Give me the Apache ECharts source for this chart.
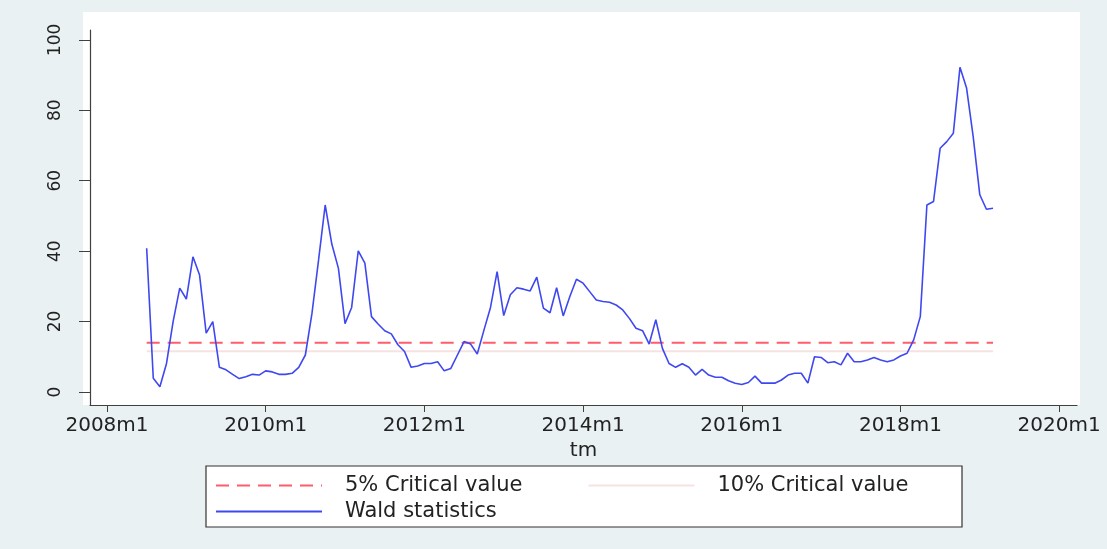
<!DOCTYPE html>
<html>
<head>
<meta charset="utf-8">
<script src="https://cdn.jsdelivr.net/npm/echarts@6/dist/echarts.min.js"></script>
<style>
  html, body { margin: 0; padding: 0; background: #e9f1f2; }
  #chart { width: 1107px; height: 549px; }
</style>
</head>
<body>
<div id="chart"></div>
<script>
// ---- data ----
const firstPeriod = '2008m7';            // first monthly observation
const waldStats = [
  40.8, 3.9, 1.5, 8.1, 20.0, 29.5,                                  // 2008m7-2008m12
  26.4, 38.4, 33.2, 16.7, 20.0, 7.0, 6.3, 5.0, 3.8, 4.3, 5.0, 4.8,   // 2009
  6.0, 5.7, 5.0, 5.0, 5.3, 7.0, 10.5, 22.3, 37.5, 53.1, 42.0, 35.1,  // 2010
  19.4, 24.0, 40.1, 36.6, 21.4, 19.3, 17.4, 16.5, 13.4, 11.5, 7.0, 7.4, // 2011
  8.1, 8.1, 8.6, 6.0, 6.7, 10.5, 14.3, 13.6, 10.8, 17.5, 24.0, 34.2, // 2012
  21.7, 27.6, 29.6, 29.2, 28.7, 32.6, 23.8, 22.5, 29.6, 21.6, 27.1, 32.0, // 2013
  30.9, 28.5, 26.1, 25.7, 25.5, 24.7, 23.3, 20.9, 18.1, 17.4, 13.6, 20.5, // 2014
  12.4, 8.1, 7.0, 8.0, 7.0, 4.8, 6.4, 4.8, 4.2, 4.2, 3.2, 2.5,       // 2015
  2.1, 2.7, 4.5, 2.5, 2.5, 2.5, 3.4, 4.8, 5.3, 5.3, 2.5, 10.0,       // 2016
  9.8, 8.3, 8.6, 7.7, 11.0, 8.6, 8.6, 9.1, 9.8, 9.1, 8.6, 9.1,       // 2017
  10.2, 11.0, 14.8, 21.4, 53.1, 54.1, 69.2, 71.1, 73.5, 92.2, 86.3, 72.5, // 2018
  56.0, 51.9, 52.2                                                   // 2019m1-2019m3
];
const criticalValue5 = 14.0;
const criticalValue10 = 11.6;
const xTickLabels = ['2008m1', '2010m1', '2012m1', '2014m1', '2016m1', '2018m1', '2020m1'];
const yTickValues = [0, 20, 40, 60, 80, 100];
const seriesNames = ['5% Critical value', '10% Critical value', 'Wald statistics'];

// ---- helpers ----
const baseYear = 2008;
function periodIndex(p) {            // months since 2008m1
  const [y, m] = p.split('m').map(Number);
  return (y - baseYear) * 12 + (m - 1);
}
function periodLabel(idx) {
  const y = baseYear + Math.floor(idx / 12);
  const m = (idx % 12) + 1;
  return y + 'm' + m;
}
const start = periodIndex(firstPeriod);
const waldData = waldStats.map((v, i) => [start + i, v]);
const cv5Data = waldStats.map((v, i) => [start + i, criticalValue5]);
const cv10Data = waldStats.map((v, i) => [start + i, criticalValue10]);
const xTickValues = xTickLabels.map(periodIndex);

const font = 'DejaVu Sans';
const hiddenSymbol = { color: 'rgba(0,0,0,0)', borderWidth: 0, opacity: 0 };
const chart = echarts.init(document.getElementById('chart'), null, { renderer: 'canvas' });
chart.setOption({
  animation: false,
  backgroundColor: '#e9f1f2',
  graphic: [
    { type: 'rect', z: -10, shape: { x: 83, y: 12, width: 997, height: 393 },
      style: { fill: '#ffffff' }, silent: true },
    { type: 'rect', z: 0, shape: { x: 206, y: 466, width: 756, height: 61 },
      style: { fill: '#ffffff', stroke: '#333333', lineWidth: 1.2 }, silent: true }
  ],
  grid: { left: 90, right: 30, top: 30, bottom: 144, containLabel: false },
  xAxis: {
    type: 'value',
    min: -2.57, max: 146.7,
    name: 'tm',
    nameLocation: 'middle',
    nameGap: 29,
    nameTextStyle: { fontFamily: font, fontSize: 20, color: '#222' },
    axisLine: { show: true, onZero: false, lineStyle: { color: '#404040', width: 1.2 } },
    axisTick: { show: true, length: 7, customValues: xTickValues, lineStyle: { color: '#404040' } },
    axisLabel: { customValues: xTickValues, formatter: v => periodLabel(v), margin: 11,
      fontFamily: font, fontSize: 20, color: '#222' },
    splitLine: { show: false }
  },
  yAxis: {
    type: 'value',
    min: -3.7, max: 102.8,
    axisLine: { show: true, onZero: false, lineStyle: { color: '#404040', width: 1.2 } },
    axisTick: { show: true, length: 11, customValues: yTickValues, lineStyle: { color: '#404040' } },
    axisLabel: { customValues: yTickValues, rotate: 90, margin: 26,
      fontFamily: font, fontSize: 17, color: '#222' },
    splitLine: { show: false }
  },
  legend: [
    {
      data: [seriesNames[0], seriesNames[1]],
      left: 215, top: 475, padding: 0,
      itemWidth: 106, itemHeight: 14, itemGap: 65,
      itemStyle: hiddenSymbol,
      textStyle: { fontFamily: font, fontSize: 21, color: '#222', padding: [0, 0, 0, 18] }
    },
    {
      data: [seriesNames[2]],
      left: 215, top: 501, padding: 0,
      itemWidth: 106, itemHeight: 14,
      itemStyle: hiddenSymbol,
      textStyle: { fontFamily: font, fontSize: 21, color: '#222', padding: [0, 0, 0, 18] }
    }
  ],
  series: [
    { name: seriesNames[0], type: 'line', data: cv5Data, symbol: 'none', silent: true,
      lineStyle: { color: '#ff5c6c', width: 2, type: [13, 8] }, itemStyle: { color: '#ff5c6c' }, z: 3 },
    { name: seriesNames[1], type: 'line', data: cv10Data, symbol: 'none', silent: true,
      lineStyle: { color: '#f6e3e1', width: 2 }, itemStyle: { color: '#f6e3e1' }, z: 2 },
    { name: seriesNames[2], type: 'line', data: waldData, symbol: 'none', silent: true,
      lineStyle: { color: '#3f48f0', width: 1.6 }, itemStyle: { color: '#3f48f0' }, z: 4 }
  ]
});
</script>
</body>
</html>
